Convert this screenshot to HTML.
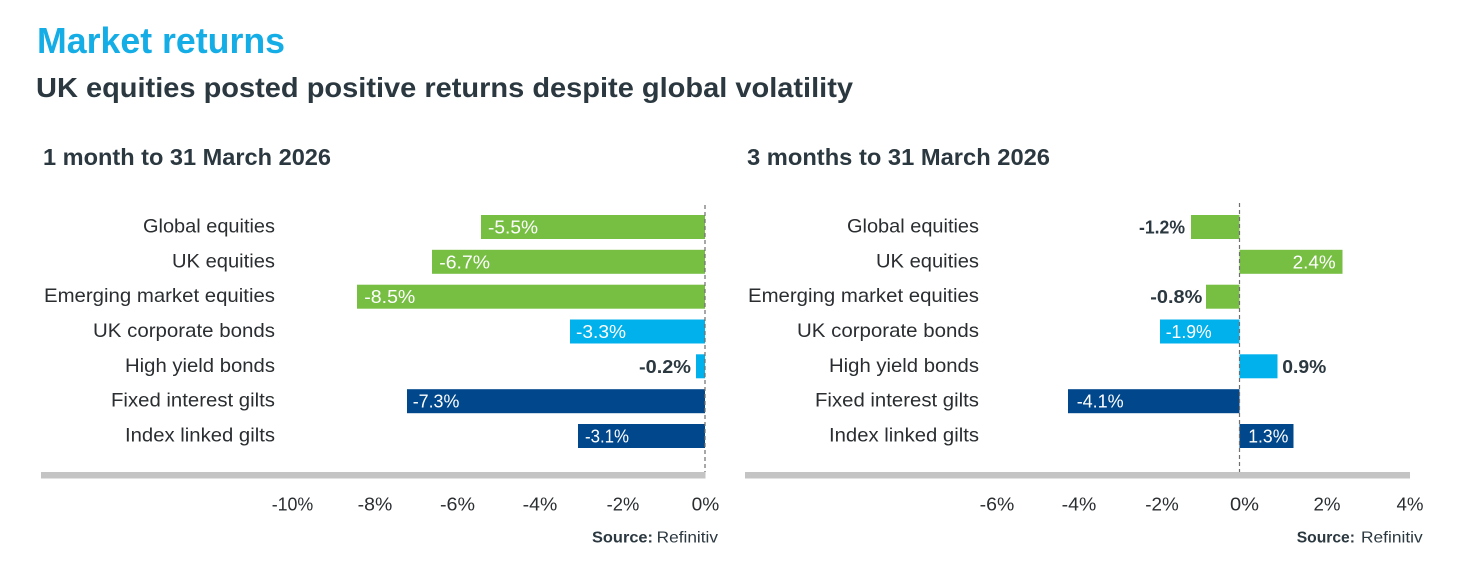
<!DOCTYPE html>
<html>
<head>
<meta charset="utf-8">
<style>
  html, body { margin: 0; padding: 0; background: #ffffff; }
  body { width: 1465px; height: 568px; overflow: hidden; }
  svg { display: block; }
  text { font-family: "Liberation Sans", "DejaVu Sans", sans-serif; }
  .cat { font-size: 19.5px; fill: #2a2e31; }
  .tick { font-size: 18px; fill: #2a2e31; }
  .vin { font-size: 18px; fill: #ffffff; }
  .vout { font-size: 18px; fill: #2b3840; font-weight: bold; }
</style>
</head>
<body>
<svg width="1465" height="568" viewBox="0 0 1465 568" xmlns="http://www.w3.org/2000/svg">
  <rect x="0" y="0" width="1465" height="568" fill="#ffffff"/>

  <!-- Titles -->
  <text x="37" y="53" font-size="36" font-weight="bold" fill="#14ade6" textLength="248" lengthAdjust="spacingAndGlyphs">Market returns</text>
  <text x="36" y="97" font-size="27.5" font-weight="bold" fill="#2b3840" textLength="817" lengthAdjust="spacingAndGlyphs">UK equities posted positive returns despite global volatility</text>

  <text x="43" y="165" font-size="23" font-weight="bold" fill="#2b3840" textLength="288" lengthAdjust="spacingAndGlyphs">1 month to 31 March 2026</text>
  <text x="747" y="165" font-size="23" font-weight="bold" fill="#2b3840" textLength="303" lengthAdjust="spacingAndGlyphs">3 months to 31 March 2026</text>

  <!-- LEFT CHART -->
  <g class="cat" text-anchor="end">
    <text x="275" y="232.5" textLength="132" lengthAdjust="spacingAndGlyphs">Global equities</text>
    <text x="275" y="267.3" textLength="103" lengthAdjust="spacingAndGlyphs">UK equities</text>
    <text x="275" y="302.2" textLength="231" lengthAdjust="spacingAndGlyphs">Emerging market equities</text>
    <text x="275" y="337" textLength="182" lengthAdjust="spacingAndGlyphs">UK corporate bonds</text>
    <text x="275" y="371.8" textLength="150" lengthAdjust="spacingAndGlyphs">High yield bonds</text>
    <text x="275" y="406.7" textLength="164" lengthAdjust="spacingAndGlyphs">Fixed interest gilts</text>
    <text x="275" y="441.5" textLength="150" lengthAdjust="spacingAndGlyphs">Index linked gilts</text>
  </g>

  <rect x="481" y="215" width="224" height="24" fill="#77bf43"/>
  <rect x="432" y="249.8" width="273" height="24" fill="#77bf43"/>
  <rect x="357" y="284.7" width="348" height="24" fill="#77bf43"/>
  <rect x="570" y="319.5" width="135" height="24" fill="#00b1ec"/>
  <rect x="696" y="354.3" width="9" height="24" fill="#00b1ec"/>
  <rect x="407" y="389.2" width="298" height="24" fill="#00478c"/>
  <rect x="578" y="424" width="127" height="24" fill="#00478c"/>

  <text class="vin" x="488" y="233.5" textLength="50" lengthAdjust="spacingAndGlyphs">-5.5%</text>
  <text class="vin" x="439.3" y="268.3" textLength="50.7" lengthAdjust="spacingAndGlyphs">-6.7%</text>
  <text class="vin" x="364.3" y="303.2" textLength="51" lengthAdjust="spacingAndGlyphs">-8.5%</text>
  <text class="vin" x="576" y="338" textLength="50" lengthAdjust="spacingAndGlyphs">-3.3%</text>
  <text class="vout" x="691" y="372.8" text-anchor="end" textLength="52" lengthAdjust="spacingAndGlyphs">-0.2%</text>
  <text class="vin" x="412.7" y="407.7" textLength="46.7" lengthAdjust="spacingAndGlyphs">-7.3%</text>
  <text class="vin" x="585" y="442.5" textLength="44" lengthAdjust="spacingAndGlyphs">-3.1%</text>

  <line x1="705" y1="205" x2="705" y2="472" stroke="#6f6f6f" stroke-width="1.2" stroke-dasharray="4 3"/>
  <rect x="41" y="472" width="664.5" height="6.5" fill="#c4c4c4"/>

  <g class="tick" text-anchor="middle">
    <text x="292.5" y="510.7" textLength="41.6" lengthAdjust="spacingAndGlyphs">-10%</text>
    <text x="375" y="510.7" textLength="34.6" lengthAdjust="spacingAndGlyphs">-8%</text>
    <text x="457.5" y="510.7" textLength="35" lengthAdjust="spacingAndGlyphs">-6%</text>
    <text x="540" y="510.7" textLength="34.6" lengthAdjust="spacingAndGlyphs">-4%</text>
    <text x="623" y="510.7" textLength="32.6" lengthAdjust="spacingAndGlyphs">-2%</text>
    <text x="705.5" y="510.7" textLength="27.6" lengthAdjust="spacingAndGlyphs">0%</text>
  </g>

  <text x="592" y="542.5" font-size="16" font-weight="bold" fill="#2b3840" textLength="61" lengthAdjust="spacingAndGlyphs">Source:</text>
  <text x="656.7" y="542.5" font-size="16" fill="#2b3840" textLength="61.3" lengthAdjust="spacingAndGlyphs">Refinitiv</text>

  <!-- RIGHT CHART -->
  <g class="cat" text-anchor="end">
    <text x="979" y="232.5" textLength="132" lengthAdjust="spacingAndGlyphs">Global equities</text>
    <text x="979" y="267.3" textLength="103" lengthAdjust="spacingAndGlyphs">UK equities</text>
    <text x="979" y="302.2" textLength="231" lengthAdjust="spacingAndGlyphs">Emerging market equities</text>
    <text x="979" y="337" textLength="182" lengthAdjust="spacingAndGlyphs">UK corporate bonds</text>
    <text x="979" y="371.8" textLength="150" lengthAdjust="spacingAndGlyphs">High yield bonds</text>
    <text x="979" y="406.7" textLength="164" lengthAdjust="spacingAndGlyphs">Fixed interest gilts</text>
    <text x="979" y="441.5" textLength="150" lengthAdjust="spacingAndGlyphs">Index linked gilts</text>
  </g>

  <rect x="1191" y="215" width="48.5" height="24" fill="#77bf43"/>
  <rect x="1239.5" y="249.8" width="103" height="24" fill="#77bf43"/>
  <rect x="1206" y="284.7" width="33.5" height="24" fill="#77bf43"/>
  <rect x="1160" y="319.5" width="79.5" height="24" fill="#00b1ec"/>
  <rect x="1239.5" y="354.3" width="38" height="24" fill="#00b1ec"/>
  <rect x="1068" y="389.2" width="171.5" height="24" fill="#00478c"/>
  <rect x="1239.5" y="424" width="54" height="24" fill="#00478c"/>

  <text class="vout" x="1185" y="233.5" text-anchor="end" textLength="46" lengthAdjust="spacingAndGlyphs">-1.2%</text>
  <text class="vin" x="1335.7" y="268.3" text-anchor="end" textLength="43" lengthAdjust="spacingAndGlyphs">2.4%</text>
  <text class="vout" x="1202.3" y="303.2" text-anchor="end" textLength="52" lengthAdjust="spacingAndGlyphs">-0.8%</text>
  <text class="vin" x="1165.7" y="338" textLength="46" lengthAdjust="spacingAndGlyphs">-1.9%</text>
  <text class="vout" x="1282.3" y="372.8" textLength="44" lengthAdjust="spacingAndGlyphs">0.9%</text>
  <text class="vin" x="1076.7" y="407.7" textLength="47" lengthAdjust="spacingAndGlyphs">-4.1%</text>
  <text class="vin" x="1248.3" y="442.5" textLength="40" lengthAdjust="spacingAndGlyphs">1.3%</text>

  <line x1="1239.5" y1="203" x2="1239.5" y2="472" stroke="#6f6f6f" stroke-width="1.2" stroke-dasharray="4 3"/>
  <rect x="745" y="472" width="665" height="6.5" fill="#c4c4c4"/>

  <g class="tick" text-anchor="middle">
    <text x="997" y="510.7" textLength="34.6" lengthAdjust="spacingAndGlyphs">-6%</text>
    <text x="1079" y="510.7" textLength="34.6" lengthAdjust="spacingAndGlyphs">-4%</text>
    <text x="1162" y="510.7" textLength="33.5" lengthAdjust="spacingAndGlyphs">-2%</text>
    <text x="1244.5" y="510.7" textLength="29" lengthAdjust="spacingAndGlyphs">0%</text>
    <text x="1327" y="510.7" textLength="27" lengthAdjust="spacingAndGlyphs">2%</text>
    <text x="1410" y="510.7" textLength="27" lengthAdjust="spacingAndGlyphs">4%</text>
  </g>

  <text x="1296.7" y="542.5" font-size="16" font-weight="bold" fill="#2b3840" textLength="58.3" lengthAdjust="spacingAndGlyphs">Source:</text>
  <text x="1361" y="542.5" font-size="16" fill="#2b3840" textLength="61.7" lengthAdjust="spacingAndGlyphs">Refinitiv</text>
</svg>
</body>
</html>
